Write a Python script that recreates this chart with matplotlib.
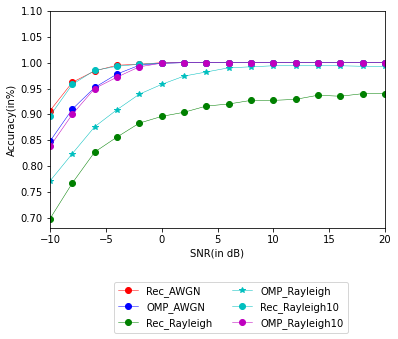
import matplotlib
matplotlib.use("Agg")
import matplotlib.pyplot as plt

snr = [-10, -8, -6, -4, -2, 0, 2, 4, 6, 8, 10, 12, 14, 16, 18, 20]

rec_awgn = [0.907, 0.962, 0.984, 0.995, 0.997, 1.0, 1.0, 1.0, 1.0, 1.0, 1.0, 1.0, 1.0, 1.0, 1.0, 1.0]
omp_awgn = [0.848, 0.910, 0.952, 0.978, 0.995, 0.999, 1.0, 1.0, 1.0, 1.0, 1.0, 1.0, 1.0, 1.0, 1.0, 1.0]
rec_rayleigh = [0.698, 0.767, 0.827, 0.856, 0.883, 0.896, 0.904, 0.916, 0.920, 0.927, 0.927, 0.929, 0.937, 0.935, 0.940, 0.940]
omp_rayleigh = [0.771, 0.824, 0.876, 0.909, 0.939, 0.958, 0.974, 0.982, 0.990, 0.992, 0.994, 0.994, 0.994, 0.994, 0.993, 0.993]
rec_rayleigh10 = [0.897, 0.958, 0.985, 0.993, 0.997, 0.999, 1.0, 1.0, 1.0, 1.0, 1.0, 1.0, 1.0, 1.0, 1.0, 1.0]
omp_rayleigh10 = [0.838, 0.900, 0.950, 0.972, 0.992, 0.999, 1.0, 1.0, 1.0, 1.0, 1.0, 1.0, 1.0, 1.0, 1.0, 1.0]

W, H = 398, 339
fig = plt.figure(figsize=(W / 72, H / 72), dpi=72)
ax = fig.add_axes([50 / W, 1 - 228 / H, 335 / W, 217 / H])

lw = 0.5
ms = 6
ax.plot(snr, rec_awgn, 'r-o', lw=lw, ms=ms, label='Rec_AWGN')
ax.plot(snr, omp_awgn, 'b-o', lw=lw, ms=ms, label='OMP_AWGN')
ax.plot(snr, rec_rayleigh, 'g-o', lw=lw, ms=ms, label='Rec_Rayleigh')
ax.plot(snr, omp_rayleigh, 'c-*', lw=lw, ms=ms, label='OMP_Rayleigh')
ax.plot(snr, rec_rayleigh10, 'c-o', lw=lw, ms=ms, label='Rec_Rayleigh10')
ax.plot(snr, omp_rayleigh10, 'm-o', lw=lw, ms=ms, label='OMP_Rayleigh10')

ax.set_xlim(-10, 20)
ax.set_ylim(0.68, 1.10)
ax.set_yticks([0.70, 0.75, 0.80, 0.85, 0.90, 0.95, 1.00, 1.05, 1.10])
ax.tick_params(labelsize=10)
ax.set_xlabel('SNR(in dB)', fontsize=10)
ax.set_ylabel('Accuracy(in%)', fontsize=10)

ax.legend(loc='upper center', bbox_to_anchor=(0.54, -0.225), ncol=2, fontsize=10)

fig.savefig('out.png', dpi=72)
